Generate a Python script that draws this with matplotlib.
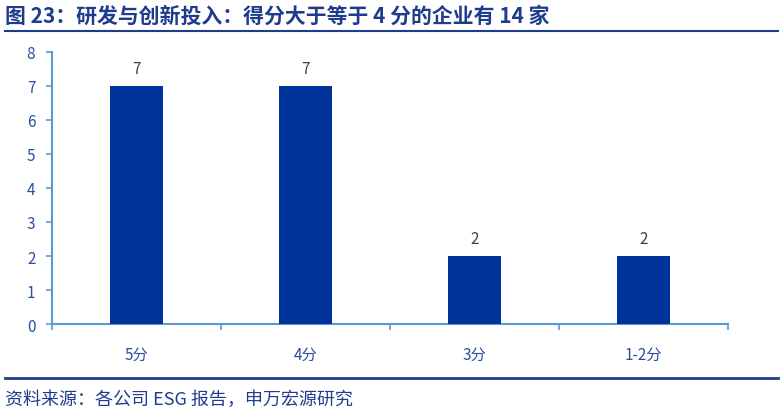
import matplotlib
matplotlib.use("Agg")
import matplotlib.pyplot as plt
from matplotlib.lines import Line2D
import numpy as np

plt.rcParams['font.family'] = ['Noto Sans CJK SC', 'DejaVu Sans']

categories = ['5分', '4分', '3分', '1-2分']
counts = [7, 7, 2, 2]
yticks = [0, 1, 2, 3, 4, 5, 6, 7, 8]

title_text = '图 23：研发与创新投入：得分大于等于 4 分的企业有 14 家'
source_text = '资料来源：各公司 ESG 报告，申万宏源研究'

dark_blue = '#1F3C8C'
bar_blue = '#003399'
axis_blue = '#5B9BD5'
tick_blue = '#2D4E9E'

fig = plt.figure(figsize=(7.82, 4.14), dpi=100)
ax = fig.add_axes([52 / 782, 1 - 325 / 414, 676 / 782, 272 / 414])

x = np.arange(len(categories))
bars = ax.bar(x, counts, width=0.31, color=bar_blue, zorder=3)
for xi, v in zip(x, counts):
    ax.text(xi, v + 0.25, str(v), ha='center', va='bottom', fontsize=11,
            color='#404040')

ax.set_xlim(-0.5, len(categories) - 0.5)
ax.set_ylim(0, 8)
ax.set_yticks(yticks)
ax.set_yticklabels([str(t) for t in yticks])
ax.set_xticks(x)
ax.set_xticklabels(categories)
ax.set_xticks(np.arange(len(categories) + 1) - 0.5, minor=True)
ax.tick_params(axis='x', which='major', length=0, pad=16, labelsize=11,
               labelcolor=tick_blue)
ax.tick_params(axis='x', which='minor', length=4, width=1.2, color=axis_blue)
ax.tick_params(axis='y', length=4, width=1.2, color=axis_blue, labelsize=11,
               labelcolor=tick_blue, pad=8)

for s in ['top', 'right']:
    ax.spines[s].set_visible(False)
for s in ['left', 'bottom']:
    ax.spines[s].set_color(axis_blue)
    ax.spines[s].set_linewidth(1.5)

fig.text(5 / 782, 1 - 16 / 414, title_text, ha='left', va='center',
         fontsize=15, fontweight='bold', color=dark_blue)
fig.add_artist(Line2D([5 / 782, 778 / 782], [1 - 32 / 414, 1 - 32 / 414],
                      color=dark_blue, lw=1.5))
fig.add_artist(Line2D([5 / 782, 778 / 782], [1 - 379 / 414, 1 - 379 / 414],
                      color=dark_blue, lw=2))
fig.text(5 / 782, 1 - 400 / 414, source_text, ha='left', va='center',
         fontsize=13, color=dark_blue)

fig.savefig('out.png', dpi=100)
